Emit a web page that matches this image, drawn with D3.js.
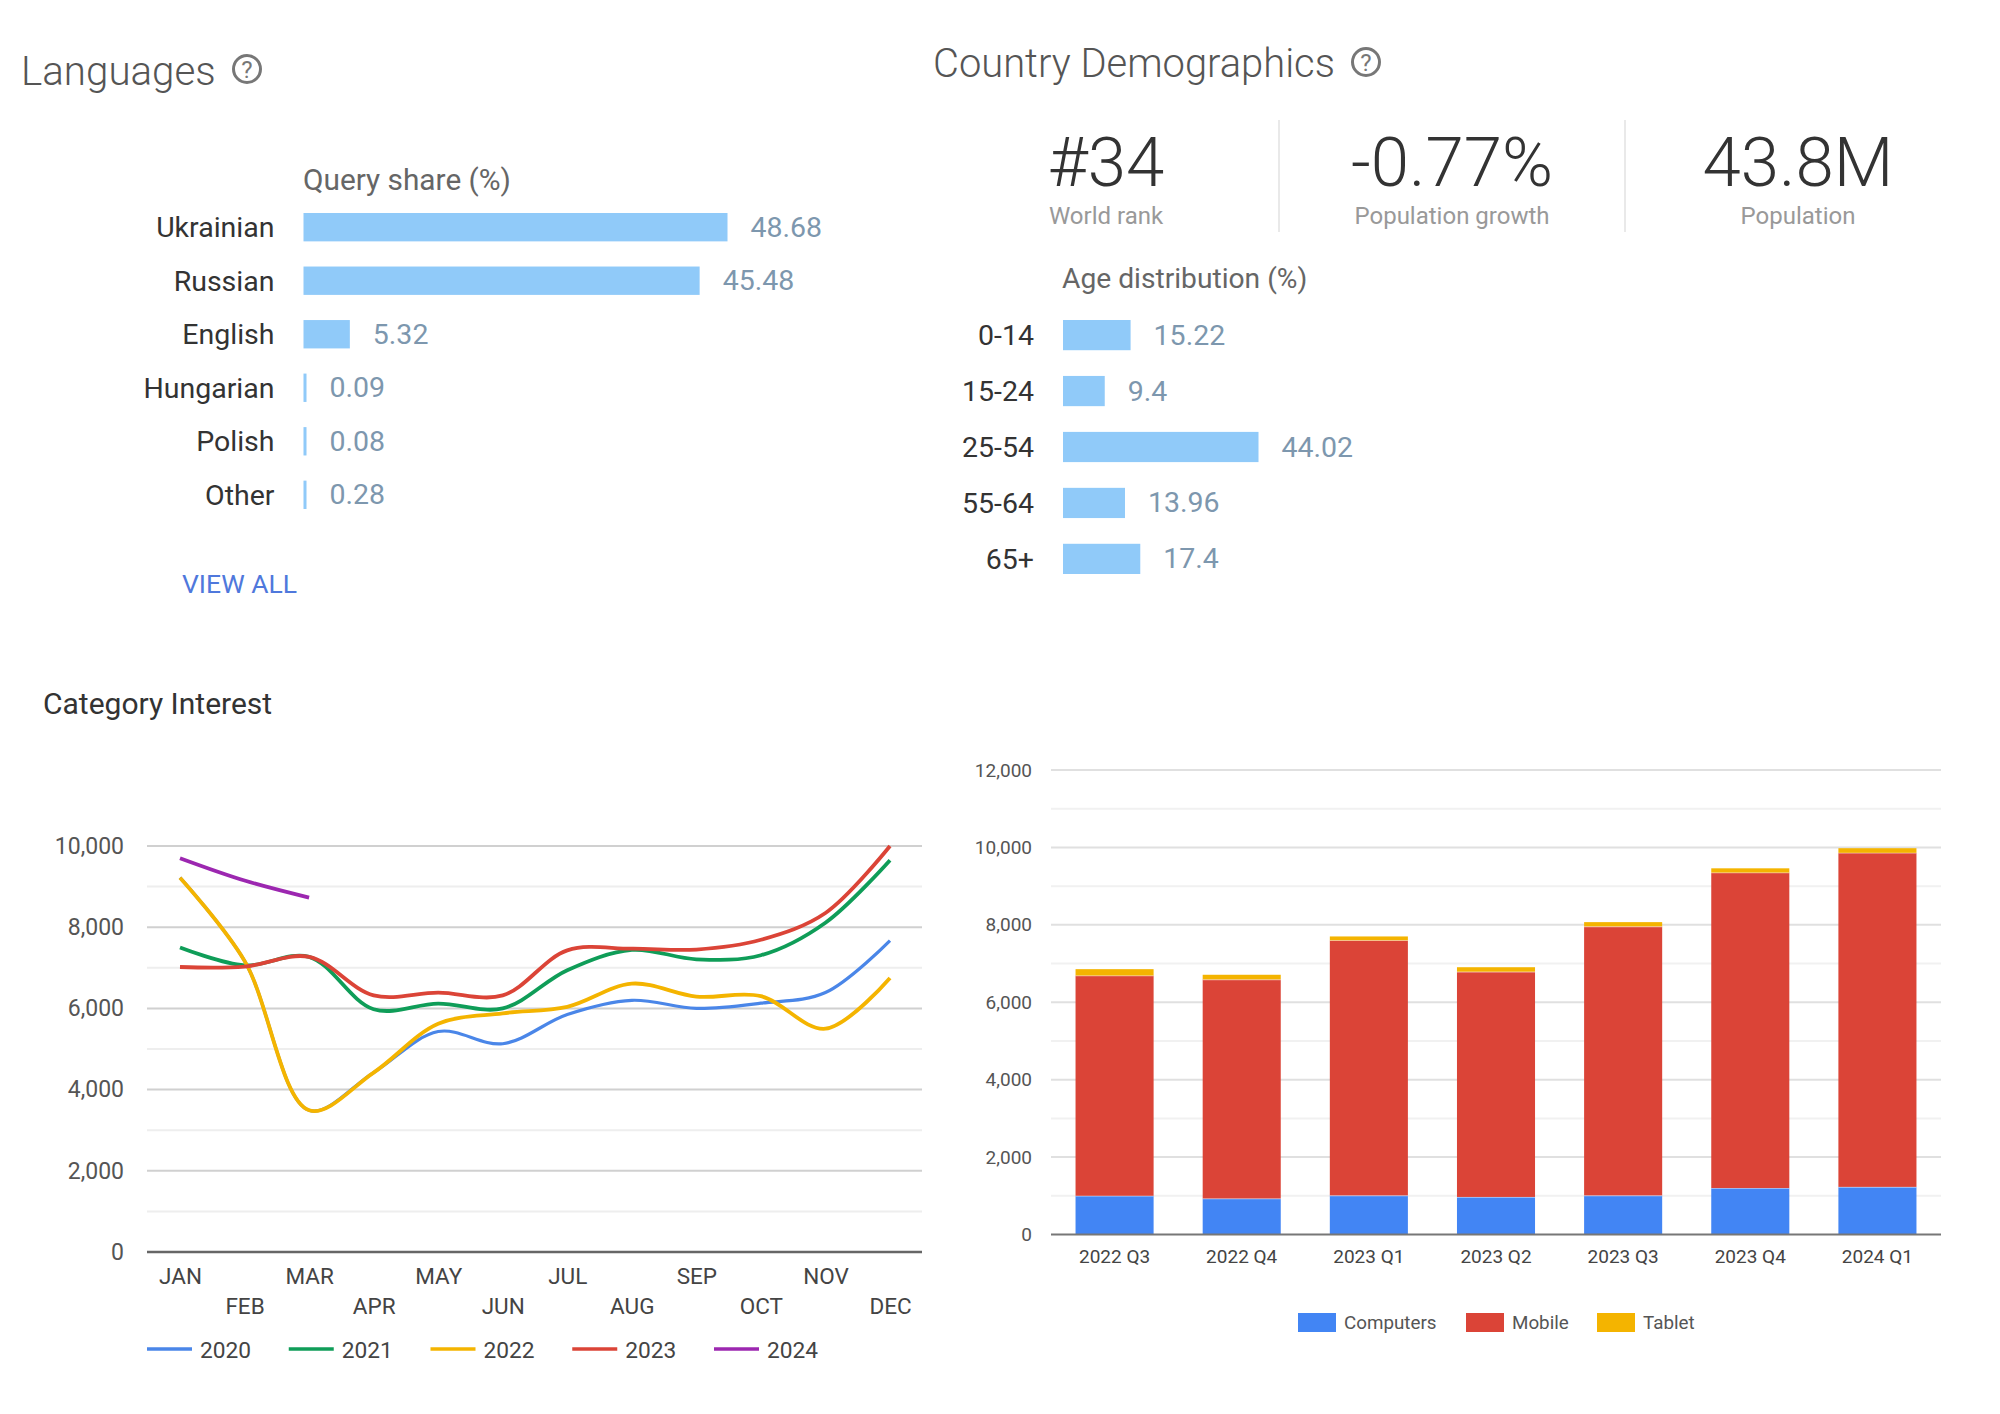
<!DOCTYPE html>
<html>
<head>
<meta charset="utf-8">
<title>Ukraine audience overview</title>
<script src="https://cdn.jsdelivr.net/npm/d3@7/dist/d3.min.js"></script>
<style>
  html, body { margin: 0; padding: 0; background: #fff; }
  svg { display: block; font-family: Roboto, sans-serif; }
  .axis .domain, .axis .tick line { display: none; }
</style>
</head>
<body>
<svg id="page" width="2000" height="1414"></svg>
<script>
// Language query share
const languageNames = ["Ukrainian", "Russian", "English", "Hungarian", "Polish", "Other"];
const languageShare = [48.68, 45.48, 5.32, 0.09, 0.08, 0.28];

// Age distribution
const ageGroups = ["0-14", "15-24", "25-54", "55-64", "65+"];
const ageShare = [15.22, 9.4, 44.02, 13.96, 17.4];

// Headline figures
const statValues = ["#34", "-0.77%", "43.8M"];
const statLabels = ["World rank", "Population growth", "Population"];

// Monthly category interest, one list per year
const months = ["JAN", "FEB", "MAR", "APR", "MAY", "JUN", "JUL", "AUG", "SEP", "OCT", "NOV", "DEC"];
const years = ["2020", "2021", "2022", "2023", "2024"];
const yearColors = ["#4a86e8", "#0f9d58", "#f4b400", "#db4437", "#9c27b0"];
const interest2020 = [9220, 7170, 3490, 4420, 5430, 5130, 5850, 6200, 6000, 6130, 6390, 7670];
const interest2021 = [7500, 7060, 7270, 5980, 6120, 6000, 6940, 7440, 7210, 7310, 8110, 9650];
const interest2022 = [9220, 7170, 3490, 4420, 5620, 5880, 6040, 6610, 6290, 6300, 5500, 6750];
const interest2023 = [7020, 7030, 7270, 6320, 6390, 6320, 7430, 7470, 7450, 7690, 8350, 10000];
const interest2024 = [9700, 9150, 8730];
const interestByYear = [interest2020, interest2021, interest2022, interest2023, interest2024];

// Quarterly volume by device
const quarters = ["2022 Q3", "2022 Q4", "2023 Q1", "2023 Q2", "2023 Q3", "2023 Q4", "2024 Q1"];
const devices = ["Computers", "Mobile", "Tablet"];
const deviceColors = ["#4285f4", "#db4437", "#f4b400"];
const computers = [1000, 930, 1010, 970, 1010, 1200, 1230];
const mobile = [5690, 5660, 6590, 5820, 6950, 8150, 8630];
const tablet = [165, 120, 100, 115, 110, 110, 120];

const svg = d3.select("#page");

function helpIcon(cx, cy) {
  svg.append("circle").attr("cx", cx).attr("cy", cy).attr("r", 13.5)
    .attr("fill", "none").attr("stroke", "#777").attr("stroke-width", 3);
  svg.append("text").attr("x", cx).attr("y", cy + 8.5).attr("text-anchor", "middle")
    .attr("font-size", 24).attr("fill", "#777").text("?");
}

function heading(x, y, size, weight, color, label) {
  svg.append("text").attr("x", x).attr("y", y).attr("font-size", size)
    .attr("font-weight", weight).attr("fill", color).text(label);
}

// Horizontal bars with a category axis on the left and values after each bar
function shareBars(cfg) {
  const x = d3.scaleLinear().domain([0, cfg.max]).range([cfg.left, cfg.right]);
  const y = d3.scaleBand().domain(cfg.names).range([cfg.top, cfg.bottom]).paddingInner(cfg.pad).paddingOuter(0);
  const g = svg.append("g");
  g.append("g").attr("class", "axis")
    .attr("transform", `translate(${cfg.left - 29},1)`)
    .call(d3.axisLeft(y).tickSize(0).tickPadding(0))
    .call(a => a.selectAll("text").attr("font-family", "Roboto, sans-serif")
      .attr("font-size", 28.5).attr("fill", "#333"));
  g.selectAll("rect").data(cfg.values).join("rect")
    .attr("x", cfg.left)
    .attr("y", (d, i) => y(cfg.names[i]))
    .attr("width", d => Math.max(3, x(d) - x(0)))
    .attr("height", y.bandwidth())
    .attr("fill", "#90caf9");
  g.selectAll("text.val").data(cfg.values).join("text").attr("class", "val")
    .attr("x", d => Math.max(x(d), x(0) + 3) + 23)
    .attr("y", (d, i) => y(cfg.names[i]) + y.bandwidth() / 2 + 9.5)
    .attr("font-size", 28.5).attr("fill", "#7d97ae")
    .text(d => d);
}

// Languages panel
heading(21, 85, 40.3, 300, "#555", "Languages");
helpIcon(247, 69);
heading(303, 190, 29.8, 400, "#666", "Query share (%)");
shareBars({
  names: languageNames, values: languageShare, max: 48.68,
  left: 303.5, right: 727.5, top: 213, bottom: 509, pad: 0.47
});
heading(182, 593, 26.5, 400, "#4f78dc", "VIEW ALL");

// Demographics panel
heading(933, 77, 39.9, 300, "#555", "Country Demographics");
helpIcon(1366, 62);
const statCenters = d3.scalePoint().domain(statLabels).range([1106, 1798]);
svg.selectAll("text.stat").data(statValues).join("text").attr("class", "stat")
  .attr("x", (d, i) => statCenters(statLabels[i])).attr("y", 186)
  .attr("text-anchor", "middle").attr("font-size", 69).attr("font-weight", 300)
  .attr("fill", "#333").text(d => d);
svg.selectAll("text.statlabel").data(statLabels).join("text").attr("class", "statlabel")
  .attr("x", d => statCenters(d)).attr("y", 224)
  .attr("text-anchor", "middle").attr("font-size", 24).attr("fill", "#999").text(d => d);
svg.selectAll("line.divider").data(statLabels.slice(1)).join("line").attr("class", "divider")
  .attr("x1", (d, i) => (statCenters(statLabels[i]) + statCenters(d)) / 2)
  .attr("x2", (d, i) => (statCenters(statLabels[i]) + statCenters(d)) / 2)
  .attr("y1", 120).attr("y2", 232).attr("stroke", "#e2e2e2").attr("stroke-width", 1.5);
heading(1062, 288, 28.2, 400, "#666", "Age distribution (%)");
shareBars({
  names: ageGroups, values: ageShare, max: 44.02,
  left: 1063, right: 1258.5, top: 320, bottom: 574, pad: 0.46
});

// Category interest line chart
heading(43, 714, 30, 400, "#333", "Category Interest");
const lineX = d3.scalePoint().domain(months).range([180, 890]);
const lineY = d3.scaleLinear().domain([0, 10000]).range([1252, 846]);
const lineGrid = svg.append("g");
lineGrid.selectAll("line").data(d3.range(1000, 10001, 1000)).join("line")
  .attr("x1", 147).attr("x2", 922)
  .attr("y1", d => lineY(d)).attr("y2", d => lineY(d))
  .attr("stroke", d => d % 2000 === 0 ? "#d0d0d0" : "#eeeeee").attr("stroke-width", 2);
svg.append("g").attr("class", "axis").attr("transform", "translate(124,0)")
  .call(d3.axisLeft(lineY).tickValues(d3.range(0, 10001, 2000)).tickFormat(d3.format(",")).tickSize(0).tickPadding(0))
  .call(a => a.selectAll("text").attr("font-family", "Roboto, sans-serif")
    .attr("font-size", 23).attr("fill", "#555"));
svg.append("line").attr("x1", 147).attr("x2", 922)
  .attr("y1", lineY(0)).attr("y2", lineY(0)).attr("stroke", "#666").attr("stroke-width", 2.5);
svg.append("g").attr("class", "axis").attr("transform", "translate(0,1268)")
  .call(d3.axisBottom(lineX).tickSize(0).tickPadding(0))
  .call(a => a.selectAll("text").attr("font-family", "Roboto, sans-serif")
    .attr("font-size", 22.5).attr("fill", "#444")
    .attr("dy", (d, i) => i % 2 ? "2.05em" : "0.71em").attr("y", 0));
const linePath = d3.line()
  .x((d, i) => lineX(months[i])).y(d => lineY(d))
  .curve(d3.curveCatmullRom.alpha(0.5));
svg.selectAll("path.year").data(interestByYear).join("path").attr("class", "year")
  .attr("d", d => linePath(d)).attr("fill", "none")
  .attr("stroke", (d, i) => yearColors[i]).attr("stroke-width", (d, i) => i === 0 ? 3.2 : 3.8);
const lineLegend = d3.scalePoint().domain(years).range([147, 714]);
years.forEach((yr, i) => {
  const lx = lineLegend(yr);
  svg.append("line").attr("x1", lx).attr("x2", lx + 45).attr("y1", 1349).attr("y2", 1349)
    .attr("stroke", yearColors[i]).attr("stroke-width", 3.5);
  svg.append("text").attr("x", lx + 53).attr("y", 1358).attr("font-size", 22.7)
    .attr("fill", "#444").text(yr);
});

// Device volume stacked bars
const barX = d3.scaleBand().domain(quarters).range([1051, 1941]).paddingInner(0.386).paddingOuter(0.193);
const barY = d3.scaleLinear().domain([0, 12000]).range([1234.5, 770]);
const barGrid = svg.append("g");
barGrid.selectAll("line").data(d3.range(1000, 12001, 1000)).join("line")
  .attr("x1", 1051).attr("x2", 1941)
  .attr("y1", d => barY(d)).attr("y2", d => barY(d))
  .attr("stroke", d => d % 2000 === 0 ? "#e0e0e0" : "#f1f1f1").attr("stroke-width", 2);
svg.append("g").attr("class", "axis").attr("transform", "translate(1032,0)")
  .call(d3.axisLeft(barY).tickValues(d3.range(0, 12001, 2000)).tickFormat(d3.format(",")).tickSize(0).tickPadding(0))
  .call(a => a.selectAll("text").attr("font-family", "Roboto, sans-serif")
    .attr("font-size", 19).attr("fill", "#555"));
svg.append("g").attr("class", "axis").attr("transform", "translate(0,1249)")
  .call(d3.axisBottom(barX).tickSize(0).tickPadding(0))
  .call(a => a.selectAll("text").attr("font-family", "Roboto, sans-serif")
    .attr("font-size", 19).attr("fill", "#444"));
const stackRows = quarters.map((q, i) => ({ q, Computers: computers[i], Mobile: mobile[i], Tablet: tablet[i] }));
const stacked = d3.stack().keys(devices)(stackRows);
stacked.forEach((layer, k) => {
  const g = svg.append("g");
  g.selectAll("rect").data(layer).join("rect")
    .attr("x", d => barX(d.data.q)).attr("width", barX.bandwidth())
    .attr("y", d => barY(d[1])).attr("height", d => barY(d[0]) - barY(d[1]))
    .attr("fill", deviceColors[k]);
  // Pale seam along the top of the two lower segments
  if (k < 2) {
    g.selectAll("line").data(layer).join("line")
      .attr("x1", d => barX(d.data.q)).attr("x2", d => barX(d.data.q) + barX.bandwidth())
      .attr("y1", d => barY(d[1])).attr("y2", d => barY(d[1]))
      .attr("stroke", "#fff").attr("stroke-opacity", 0.6).attr("stroke-width", 1.5);
  }
});
svg.append("line").attr("x1", 1051).attr("x2", 1941)
  .attr("y1", barY(0)).attr("y2", barY(0)).attr("stroke", "#777").attr("stroke-width", 2);
const barLegendX = d3.scaleOrdinal().domain(devices).range([1298, 1466, 1597]);
devices.forEach((dv, i) => {
  const lx = barLegendX(dv);
  svg.append("rect").attr("x", lx).attr("y", 1313).attr("width", 38).attr("height", 19)
    .attr("fill", deviceColors[i]);
  svg.append("text").attr("x", lx + 46).attr("y", 1329).attr("font-size", 18.8)
    .attr("fill", "#555").text(dv);
});
</script>
</body>
</html>
